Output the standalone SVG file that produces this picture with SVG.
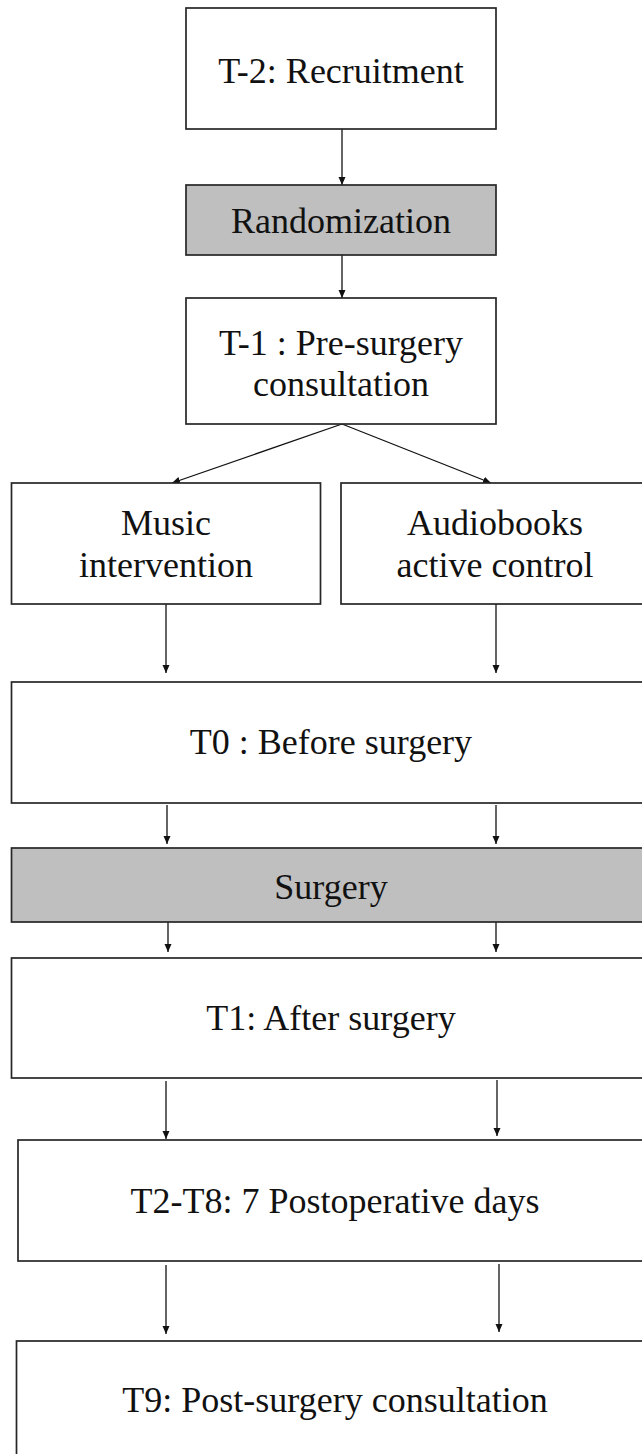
<svg xmlns="http://www.w3.org/2000/svg" width="642" height="1454" viewBox="0 0 642 1454">
<style>
.box{fill:#ffffff;stroke:#262626;stroke-width:1.7}
.grey{fill:#bfbfbf;stroke:#262626;stroke-width:1.7}
.lbl{font-family:"Liberation Serif","Times New Roman",serif;font-size:36px;fill:#111;text-anchor:middle}
.conn{stroke:#111;stroke-width:1.3;fill:none;marker-end:url(#ah)}
</style>
<defs>
<marker id="ah" markerUnits="userSpaceOnUse" markerWidth="9" markerHeight="8" refX="8" refY="3.5" orient="auto">
<path d="M0,0 L8,3.5 L0,7 z" fill="#111"/>
</marker>
</defs>
<rect width="642" height="1454" fill="#ffffff"/>
<g id="connectors">
<line class="conn" x1="342" y1="129" x2="342" y2="185"/>
<line class="conn" x1="342" y1="255" x2="342" y2="298"/>
<line class="conn" x1="342" y1="424" x2="172" y2="483"/>
<line class="conn" x1="342" y1="424" x2="491" y2="483"/>
<line class="conn" x1="166" y1="604" x2="166" y2="673"/>
<line class="conn" x1="496" y1="604" x2="496" y2="673"/>
<line class="conn" x1="167" y1="805" x2="167" y2="844"/>
<line class="conn" x1="496" y1="805" x2="496" y2="844"/>
<line class="conn" x1="168" y1="922" x2="168" y2="952"/>
<line class="conn" x1="496" y1="922" x2="496" y2="952"/>
<line class="conn" x1="166" y1="1081" x2="166" y2="1139"/>
<line class="conn" x1="497" y1="1080" x2="497" y2="1136"/>
<line class="conn" x1="166" y1="1265" x2="166" y2="1334"/>
<line class="conn" x1="499" y1="1264" x2="499" y2="1332"/>
</g>
<g id="n-recruit">
<rect class="box" x="186" y="8" width="310" height="121"/>
<text class="lbl" x="341" y="83">T-2: Recruitment</text>
</g>
<g id="n-random">
<rect class="grey" x="186" y="185" width="310" height="70"/>
<text class="lbl" x="341" y="233">Randomization</text>
</g>
<g id="n-presurgery">
<rect class="box" x="186" y="298" width="310" height="126"/>
<text class="lbl" x="341" y="355">T-1 : Pre-surgery</text>
<text class="lbl" x="341" y="396">consultation</text>
</g>
<g id="n-music">
<rect class="box" x="11.5" y="483" width="309" height="121"/>
<text class="lbl" x="166" y="535">Music</text>
<text class="lbl" x="166" y="577">intervention</text>
</g>
<g id="n-audio">
<rect class="box" x="341" y="483" width="310" height="121"/>
<text class="lbl" x="495" y="535">Audiobooks</text>
<text class="lbl" x="495" y="577">active control</text>
</g>
<g id="n-t0">
<rect class="box" x="11.5" y="682" width="640" height="121"/>
<text class="lbl" x="331" y="754">T0 : Before surgery</text>
</g>
<g id="n-surgery">
<rect class="grey" x="11.5" y="848" width="640" height="74"/>
<text class="lbl" x="331" y="899">Surgery</text>
</g>
<g id="n-t1">
<rect class="box" x="11.5" y="958" width="640" height="120"/>
<text class="lbl" x="331" y="1030">T1: After surgery</text>
</g>
<g id="n-t2t8">
<rect class="box" x="18" y="1140" width="640" height="121"/>
<text class="lbl" x="335" y="1213">T2-T8: 7 Postoperative days</text>
</g>
<g id="n-t9">
<rect class="box" x="16.5" y="1341" width="640" height="130"/>
<text class="lbl" x="335" y="1412">T9: Post-surgery consultation</text>
</g>
</svg>
